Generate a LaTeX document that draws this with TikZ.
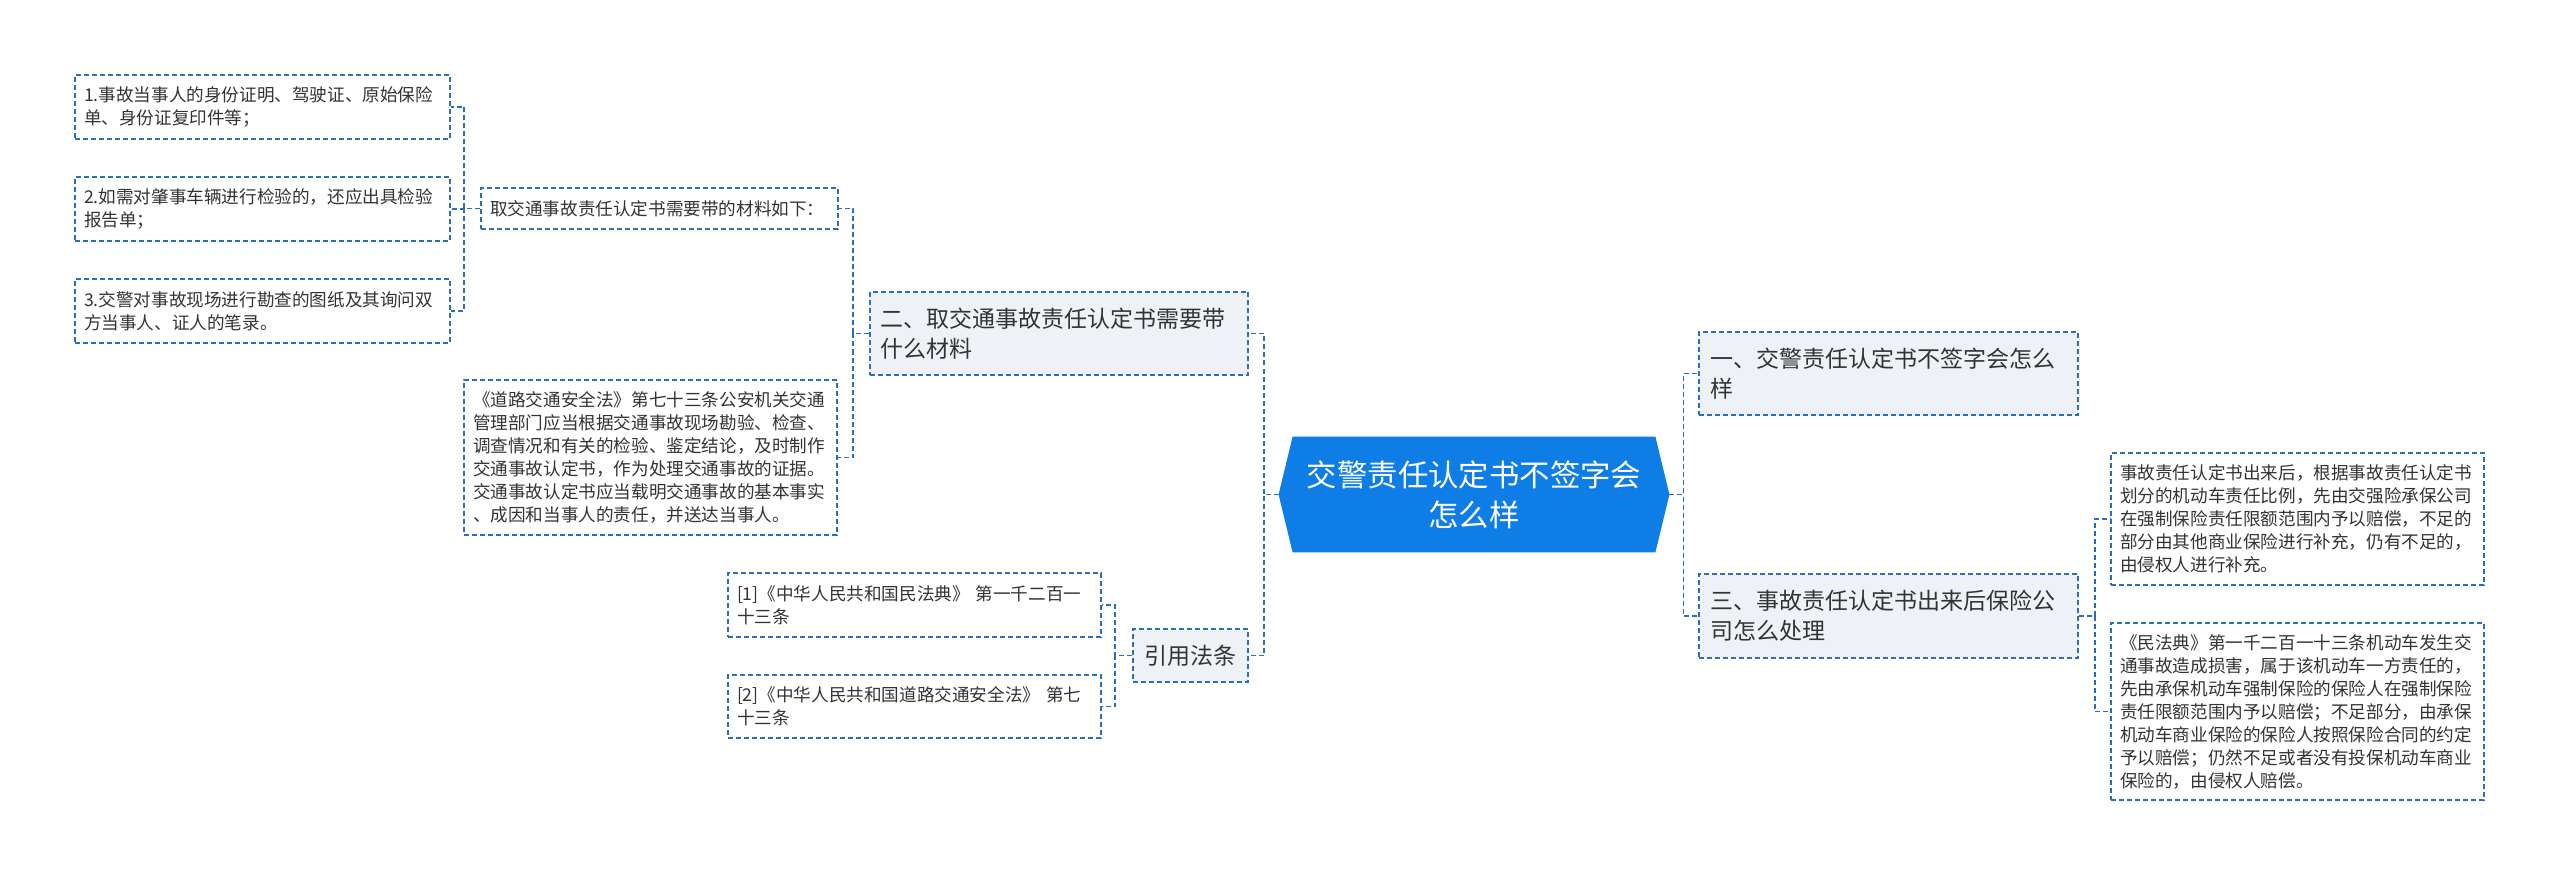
\documentclass[tikz,border=0pt]{standalone}
\usepackage{fontspec}
\setmainfont{Noto Sans CJK SC}
\usepackage{tikz}
\usetikzlibrary{backgrounds}
\definecolor{LinkBlue}{HTML}{2B6FB8}
\definecolor{RootBlue}{HTML}{0E7DE6}
\definecolor{TopicGray}{HTML}{EEF1F5}
\definecolor{TextGray}{HTML}{333333}

\begin{document}
\begin{tikzpicture}[x = 0.5pt, y = -0.5pt]
\tikzset{EdgeStyle/.style =
{LinkBlue,
line width = 0.9pt,
dash pattern = on 2.5pt off 1.5pt}}
\tikzset{LeafStyle/.style =
{draw = LinkBlue,
line width = 0.9pt,
dash pattern = on 2.5pt off 1.5pt,
fill = white,
text = TextGray,
font = \fontsize{8.8}{11.5}\selectfont,
align = left,
inner xsep = 4.5pt,
inner ysep = 0pt}}
\tikzset{TopicStyle/.style =
{LeafStyle,
fill = TopicGray,
font = \fontsize{11.5}{15}\selectfont,
inner xsep = 5.5pt}}
\tikzset{RootStyle/.style =
{text = white,
font = \fontsize{15.2}{20}\selectfont,
align = center,
text width = 180pt,
minimum width = 195pt,
minimum height = 57.5pt,
inner sep = 0pt}}
%root
\node[RootStyle] (root) at (1474,494.5) {交警责任认定书不签字会\\怎么样};
%left side
\node[TopicStyle, text width = 178.25pt, minimum height = 41.5pt] (er) at (1059,333.5)
{二、取交通事故责任认定书需要带\\什么材料};
\node[LeafStyle, text width = 169.5pt, minimum height = 20.5pt] (qu) at (659.5,208.5)
{取交通事故责任认定书需要带的材料如下：};
\node[LeafStyle, text width = 178.5pt, minimum height = 32pt] (b1) at (262.5,107)
{1.事故当事人的身份证明、驾驶证、原始保险\\单、身份证复印件等；};
\node[LeafStyle, text width = 178.5pt, minimum height = 32pt] (b2) at (262.5,209)
{2.如需对肇事车辆进行检验的，还应出具检验\\报告单；};
\node[LeafStyle, text width = 178.5pt, minimum height = 32pt] (b3) at (262.5,311)
{3.交警对事故现场进行勘查的图纸及其询问双\\方当事人、证人的笔录。};
\node[LeafStyle, text width = 177.5pt, minimum height = 77.5pt] (dao) at (650.5,457.5)
{《道路交通安全法》第七十三条公安机关交通\\管理部门应当根据交通事故现场勘验、检查、\\调查情况和有关的检验、鉴定结论，及时制作\\交通事故认定书，作为处理交通事故的证据。\\交通事故认定书应当载明交通事故的基本事实\\、成因和当事人的责任，并送达当事人。};
\node[TopicStyle, align = center, minimum width = 57.5pt, minimum height = 26.5pt, inner xsep = 0pt] (cite) at (1190.5,655.5)
{引用法条};
\node[LeafStyle, text width = 177.5pt, minimum height = 32pt] (c1) at (914.5,605)
{[1]《中华人民共和国民法典》 第一千二百一\\十三条};
\node[LeafStyle, text width = 177.5pt, minimum height = 31.5pt] (c2) at (914.5,706.5)
{[2]《中华人民共和国道路交通安全法》 第七\\十三条};
%right side
\node[TopicStyle, text width = 178.5pt, minimum height = 41.5pt] (yi) at (1888.5,373.5)
{一、交警责任认定书不签字会怎么\\样};
\node[TopicStyle, text width = 178.5pt, minimum height = 42pt] (san) at (1888.5,616)
{三、事故责任认定书出来后保险公\\司怎么处理};
\node[LeafStyle, text width = 177.5pt, minimum height = 66pt] (A) at (2297.5,519)
{事故责任认定书出来后，根据事故责任认定书\\划分的机动车责任比例，先由交强险承保公司\\在强制保险责任限额范围内予以赔偿，不足的\\部分由其他商业保险进行补充，仍有不足的，\\由侵权人进行补充。};
\node[LeafStyle, text width = 177.5pt, minimum height = 88.5pt] (B) at (2297.5,711.5)
{《民法典》第一千二百一十三条机动车发生交\\通事故造成损害，属于该机动车一方责任的，\\先由承保机动车强制保险的保险人在强制保险\\责任限额范围内予以赔偿；不足部分，由承保\\机动车商业保险的保险人按照保险合同的约定\\予以赔偿；仍然不足或者没有投保机动车商业\\保险的，由侵权人赔偿。};
\begin{scope}[on background layer]
\fill[white] (0,0) rectangle (2560,877);
\fill[RootBlue] (root.west) -- ([xshift = 7pt]root.north west) -- ([xshift = -7pt]root.north east)
-- (root.east) -- ([xshift = -7pt]root.south east) -- ([xshift = 7pt]root.south west) -- cycle;
\end{scope}
%edges
\draw[EdgeStyle] (root.west) -- ++(-15,0) |- (er.east);
\draw[EdgeStyle] (root.west) -- ++(-15,0) |- (cite.east);
\draw[EdgeStyle] (root.east) -- ++(14,0) |- (yi.west);
\draw[EdgeStyle] (root.east) -- ++(14,0) |- (san.west);
\draw[EdgeStyle] (er.west) -- ++(-16,0) |- (qu.east);
\draw[EdgeStyle] (er.west) -- ++(-16,0) |- (dao.east);
\foreach \leaf in {b1,b2,b3}
\draw[EdgeStyle] (qu.west) -- ++(-16,0) |- (\leaf.east);
\foreach \leaf in {c1,c2}
\draw[EdgeStyle] (cite.west) -- ++(-17,0) |- (\leaf.east);
\foreach \leaf in {A,B}
\draw[EdgeStyle] (san.east) -- ++(16,0) |- (\leaf.west);
\end{tikzpicture}
\end{document}
